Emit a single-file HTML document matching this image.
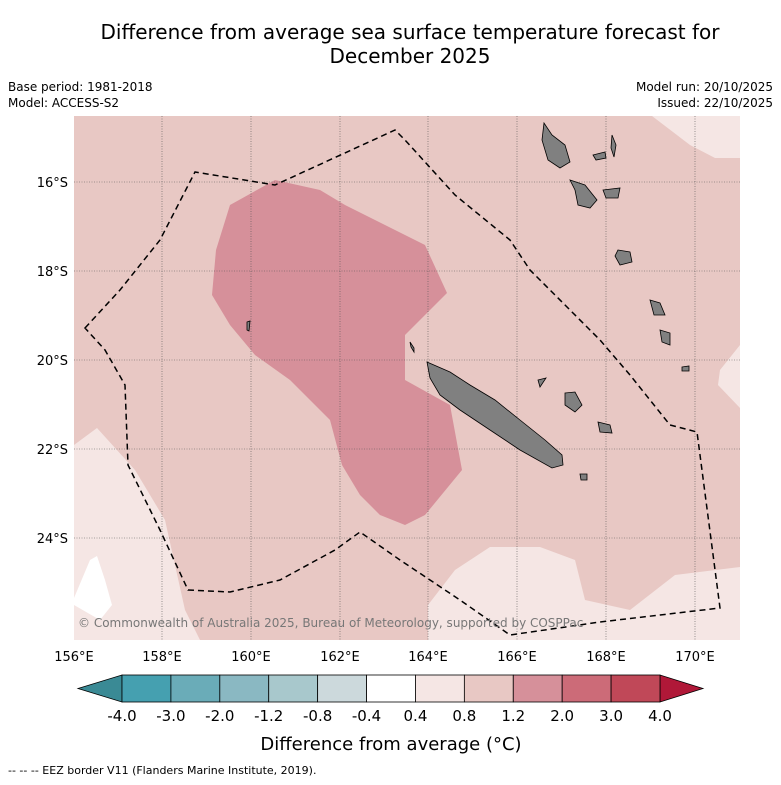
<!DOCTYPE html>
<html><head><meta charset="utf-8"><style>
body{margin:0;background:#fff;font-family:"DejaVu Sans",sans-serif}
</style></head><body>
<svg width="781" height="781" xmlns="http://www.w3.org/2000/svg" font-family="DejaVu Sans, sans-serif">
<text x="410" y="39" font-size="20" text-anchor="middle">Difference from average sea surface temperature forecast for</text>
<text x="410" y="63" font-size="20" text-anchor="middle">December 2025</text>
<text x="8" y="91" font-size="12">Base period: 1981-2018</text>
<text x="8" y="107" font-size="12">Model: ACCESS-S2</text>
<text x="773" y="91" font-size="12" text-anchor="end">Model run: 20/10/2025</text>
<text x="773" y="107" font-size="12" text-anchor="end">Issued: 22/10/2025</text>
<g>
<rect x="74" y="116" width="666" height="524" fill="#e8c8c4"/>
<polygon points="230,205 275,180 320,190 345,205 425,245 447,293 405,335 405,380 450,405 462,470 425,515 405,525 380,515 360,495 342,465 330,420 315,405 290,380 255,355 230,325 212,295 216,250" fill="#d6909a"/>
<polygon points="74,445 97,428 135,470 165,520 185,610 200,640 74,640" fill="#f5e6e4"/>
<polygon points="74,598 90,560 97,556 105,580 112,605 100,620 74,605" fill="#ffffff"/>
<polygon points="428,605 455,570 490,547 540,547 575,560 585,600 630,610 675,575 740,567 740,640 428,640" fill="#f5e6e4"/>
<polygon points="652,116 740,116 740,158 715,158 690,145" fill="#f5e6e4"/>
<polygon points="740,345 720,370 718,385 740,408" fill="#f5e6e4"/>
<g stroke="#555" stroke-width="0.6" stroke-dasharray="1,1.5">
<line x1="162" y1="116" x2="162" y2="640"/><line x1="251" y1="116" x2="251" y2="640"/><line x1="340" y1="116" x2="340" y2="640"/><line x1="428" y1="116" x2="428" y2="640"/><line x1="517" y1="116" x2="517" y2="640"/><line x1="606" y1="116" x2="606" y2="640"/><line x1="695" y1="116" x2="695" y2="640"/>
<line x1="74" y1="182" x2="740" y2="182"/><line x1="74" y1="271" x2="740" y2="271"/><line x1="74" y1="360" x2="740" y2="360"/><line x1="74" y1="449" x2="740" y2="449"/><line x1="74" y1="538" x2="740" y2="538"/>
</g>
<polygon points="85,328 120,290 160,240 195,172 275,185 395,130 405,140 455,195 510,240 530,270 570,310 600,340 630,375 670,425 697,432 720,608 660,615 600,622 510,635 460,600 400,560 360,532 335,550 280,580 230,592 188,590 160,530 128,465 125,385 105,350" fill="none" stroke="#000" stroke-width="1.5" stroke-dasharray="6,4"/>
<g fill="#808080" stroke="#000" stroke-width="0.8">
<polygon points="427,362 450,372 470,385 495,400 520,420 545,440 562,455 563,465 552,468 520,450 490,430 460,410 440,395 430,378"/>
<polygon points="544,123 552,135 565,145 570,162 560,168 548,160 542,140"/>
<polygon points="570,180 585,185 597,200 590,208 578,205 575,190"/>
<polygon points="603,190 620,188 618,198 606,198"/>
<polygon points="612,135 616,145 614,157 611,148"/>
<polygon points="593,155 605,152 606,158 596,160"/>
<polygon points="618,250 630,252 632,262 620,265 615,256"/>
<polygon points="650,300 660,303 665,315 654,315"/>
<polygon points="660,330 670,333 670,345 662,342"/>
<polygon points="565,393 575,392 582,405 575,412 565,405"/>
<polygon points="598,422 610,425 612,433 600,432"/>
<polygon points="580,474 587,474 587,480 581,480"/>
<polygon points="682,367 689,366 689,371 682,371"/>
<polygon points="247,322 250,321 249,331 247,330"/>
<polygon points="410,342 414,348 414,352 411,347"/>
<polygon points="538,380 546,378 540,387"/>
</g>
<text x="78" y="627" font-size="12" fill="#777">© Commonwealth of Australia 2025, Bureau of Meteorology, supported by COSPPac</text>
</g>
<g font-size="13">
<text x="74" y="661" text-anchor="middle">156°E</text><text x="162" y="661" text-anchor="middle">158°E</text><text x="251" y="661" text-anchor="middle">160°E</text><text x="340" y="661" text-anchor="middle">162°E</text><text x="428" y="661" text-anchor="middle">164°E</text><text x="517" y="661" text-anchor="middle">166°E</text><text x="606" y="661" text-anchor="middle">168°E</text><text x="695" y="661" text-anchor="middle">170°E</text>
<text x="68" y="187" text-anchor="end">16°S</text><text x="68" y="276" text-anchor="end">18°S</text><text x="68" y="365" text-anchor="end">20°S</text><text x="68" y="454" text-anchor="end">22°S</text><text x="68" y="543" text-anchor="end">24°S</text>
</g>
<g id="cbar"></g>
<text x="391" y="750" font-size="18" text-anchor="middle">Difference from average (°C)</text>
<text x="8" y="774" font-size="11">--  --  -- EEZ border V11 (Flanders Marine Institute, 2019).</text>
</svg>
<script>
const levels=["-4.0","-3.0","-2.0","-1.2","-0.8","-0.4","0.4","0.8","1.2","2.0","3.0","4.0"];
const colors=["#45a0b0","#6aacb8","#8ab8c2","#a8c8cc","#ccd9dc","#ffffff","#f5e6e4","#e8c8c4","#d6909a","#cc6b78","#c04858"];
const lowColor="#3a8a95", highColor="#b01838";
const g=document.getElementById('cbar'),NS="http://www.w3.org/2000/svg";
const x0=122,x1=660,y0=675,h=27,w=(x1-x0)/colors.length;
function mk(t,a){const e=document.createElementNS(NS,t);for(const k in a)e.setAttribute(k,a[k]);g.appendChild(e);return e;}
let l=mk('polygon',{points:`78,${y0+h/2} ${x0},${y0} ${x0},${y0+h}`,fill:lowColor,stroke:'#000','stroke-width':0.8});


let r=mk('polygon',{points:`703,${y0+h/2} ${x1},${y0} ${x1},${y0+h}`,fill:highColor,stroke:'#000','stroke-width':0.8});


colors.forEach((c,i)=>{const e=mk('rect',{x:x0+i*w,y:y0,width:w,height:h,fill:c,stroke:'#000','stroke-width':0.8});

});
levels.forEach((s,i)=>{const t=mk('text',{x:x0+i*w,y:721,'font-size':15,'text-anchor':'middle'});t.textContent=s;

});
</script>
</body></html>
